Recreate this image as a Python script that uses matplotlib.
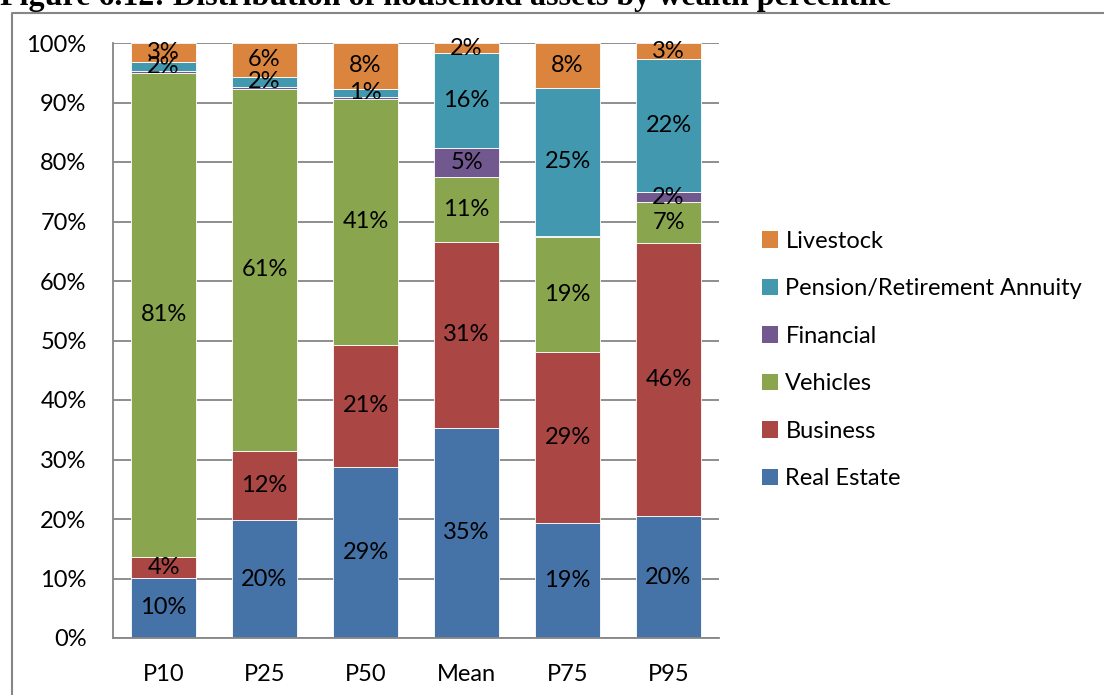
import numpy as np
import matplotlib
matplotlib.use("Agg")
import matplotlib.pyplot as plt
from matplotlib.patches import Patch
from matplotlib.lines import Line2D

plt.rcParams['font.family'] = ['Lato', 'DejaVu Sans']

# data (percent of total assets)
groups = ["P10", "P25", "P50", "Mean", "P75", "P95"]
real_estate = [10.1, 19.8, 28.7, 35.3, 19.3, 20.5]
business = [3.5, 11.6, 20.6, 31.3, 28.8, 45.9]
vehicles = [81.4, 60.9, 41.3, 10.8, 19.3, 6.8]
financial = [0.3, 0.3, 0.3, 4.9, 0.2, 1.8]
pension = [1.5, 1.7, 1.4, 16.0, 24.8, 22.3]
livestock = [3.2, 5.7, 7.7, 1.7, 7.6, 2.7]

series = [
    ("Real Estate", real_estate, "#4572A7"),
    ("Business", business, "#AA4643"),
    ("Vehicles", vehicles, "#89A54E"),
    ("Financial", financial, "#71588F"),
    ("Pension/Retirement Annuity", pension, "#4198AF"),
    ("Livestock", livestock, "#DB843D"),
]

fig = plt.figure(figsize=(11.04, 6.95), dpi=100)
ax = fig.add_axes([113 / 1104, 57 / 695, 606 / 1104, 595 / 695])

x = np.arange(len(groups))
bottom = np.zeros(len(groups))
for name, vals, col in series:
    vals = np.array(vals)
    ax.bar(x, vals, 0.65, bottom=bottom, color=col, edgecolor="white",
           linewidth=0.6, zorder=2)
    for xi, b, v in zip(x, bottom, vals):
        if round(v) >= 1:
            ax.text(xi, b + v / 2, f"{round(v):.0f}%", ha="center",
                    va="center", fontsize=17, color="black", zorder=3)
    bottom += vals

ax.set_xlim(-0.5, len(groups) - 0.5)
ax.set_ylim(0, 100)
ax.set_yticks(np.arange(0, 101, 10))
ax.set_yticklabels([f"{t}%" for t in range(0, 101, 10)])
ax.set_xticks(x)
ax.set_xticklabels(groups)
ax.tick_params(axis="y", length=0, pad=19, labelsize=17)
ax.tick_params(axis="x", length=0, pad=18.5, labelsize=17)
ax.grid(axis="y", color="#868686", linewidth=1.3, zorder=0)
ax.set_axisbelow(True)
for s in ["top", "right"]:
    ax.spines[s].set_visible(False)
for s in ["left", "bottom"]:
    ax.spines[s].set_color("#868686")
    ax.spines[s].set_linewidth(1.3)

handles = [Patch(facecolor=c, label=n) for n, v, c in series][::-1]
fig.legend(handles=handles, loc="upper left",
           bbox_to_anchor=(750 / 1104, 1 - 219 / 695), frameon=False,
           fontsize=17, handlelength=0.7, handleheight=0.7,
           handletextpad=0.3, labelspacing=1.12, borderpad=0)

# outer chart frame (cut by image edges)
fig.add_artist(Line2D([12 / 1104, 12 / 1104, 1.0], [0, 1 - 13 / 695, 1 - 13 / 695],
                      transform=fig.transFigure, color="#868686", linewidth=1.5))

fig.text(0.0, 1 - 5 / 695, "Figure 6.12: Distribution of household assets by wealth percentile",
         family="Liberation Serif", weight="bold", fontsize=23,
         ha="left", va="baseline")

fig.savefig("out.png", dpi=100, facecolor="white")
